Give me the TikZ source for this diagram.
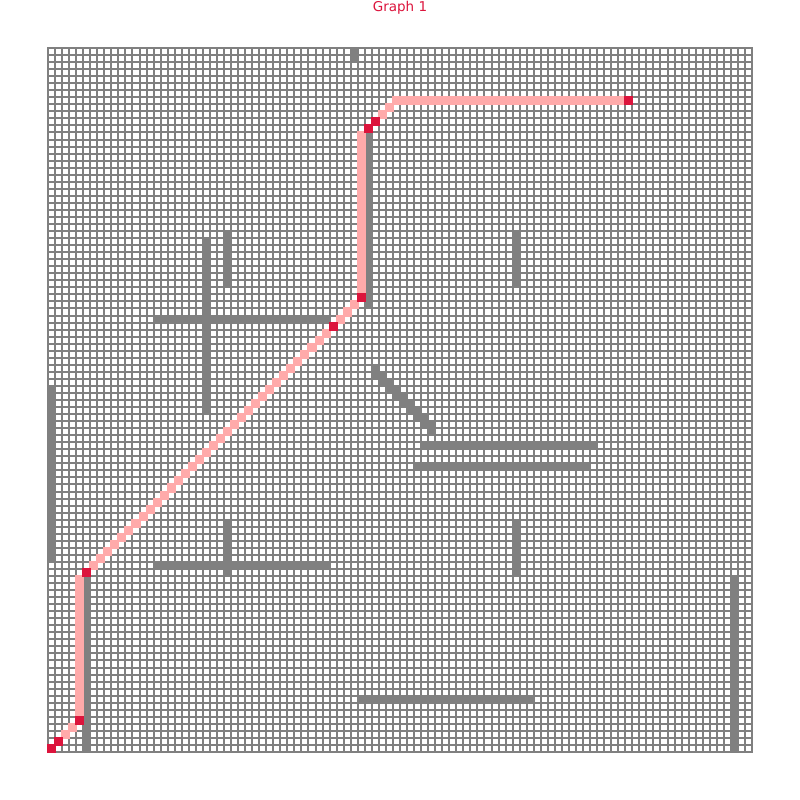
\documentclass[tikz,border=0pt]{standalone}
\usepackage{fontspec}
\setmainfont{DejaVu Sans}
\definecolor{obst}{RGB}{128,128,128}
\definecolor{pathc}{RGB}{255,170,170}
\definecolor{wayp}{RGB}{220,20,60}
\newcommand\grect[5]{\fill[#1] ({round(48+7.04*(#2))-1},{round(48+7.04*(#3))-1}) rectangle ({round(48+7.04*(#4+1))+1},{round(48+7.04*(#5+1))+1});}
\begin{document}
\begin{tikzpicture}[x=1pt,y=-1pt,
  gridline/.style={draw=obst,line width=1.3pt},
  titletext/.style={text=wayp,font=\fontsize{13.5}{16}\selectfont,anchor=base,inner sep=0pt}]
\path[use as bounding box,fill=white] (0,0) rectangle (800,800);
\node[titletext] (title) at (400,12) {Graph 1};
% grid
\foreach \k in {0,...,100}{
  \pgfmathsetmacro{\p}{round(48+7.04*\k)}
  \draw[gridline] (\p,47.35) -- (\p,752.65);
  \draw[gridline] (47.35,\p) -- (752.65,\p);
}
% obstacles
\grect{obst}{43}{0}{43}{1}
\grect{obst}{45}{12}{45}{36}
\grect{obst}{22}{27}{22}{51}
\grect{obst}{25}{26}{25}{33}
\grect{obst}{15}{38}{39}{38}
\grect{obst}{66}{26}{66}{33}
\foreach \k in {0,...,8}{\grect{obst}{46+\k}{45+\k}{46+\k}{46+\k}}
\grect{obst}{53}{56}{77}{56}
\grect{obst}{52}{59}{76}{59}
\grect{obst}{0}{48}{0}{72}
\grect{obst}{15}{73}{39}{73}
\grect{obst}{25}{67}{25}{74}
\grect{obst}{66}{67}{66}{74}
\grect{obst}{5}{75}{5}{99}
\grect{obst}{97}{75}{97}{99}
\grect{obst}{44}{92}{68}{92}
% path
\grect{pathc}{49}{7}{81}{7}
\grect{pathc}{48}{8}{48}{8}
\grect{pathc}{47}{9}{47}{9}
\grect{pathc}{44}{12}{44}{34}
\foreach \k in {1,2,3}{\grect{pathc}{44-\k}{35+\k}{44-\k}{35+\k}}
\foreach \k in {1,...,34}{\grect{pathc}{40-\k}{39+\k}{40-\k}{39+\k}}
\grect{pathc}{4}{75}{4}{94}
\grect{pathc}{3}{96}{3}{96}
\grect{pathc}{2}{97}{2}{97}
% waypoints
\grect{wayp}{82}{7}{82}{7}
\grect{wayp}{46}{10}{46}{10}
\grect{wayp}{45}{11}{45}{11}
\grect{wayp}{44}{35}{44}{35}
\grect{wayp}{40}{39}{40}{39}
\grect{wayp}{5}{74}{5}{74}
\grect{wayp}{4}{95}{4}{95}
\grect{wayp}{1}{98}{1}{98}
\grect{wayp}{0}{99}{0}{99}
\end{tikzpicture}
\end{document}
